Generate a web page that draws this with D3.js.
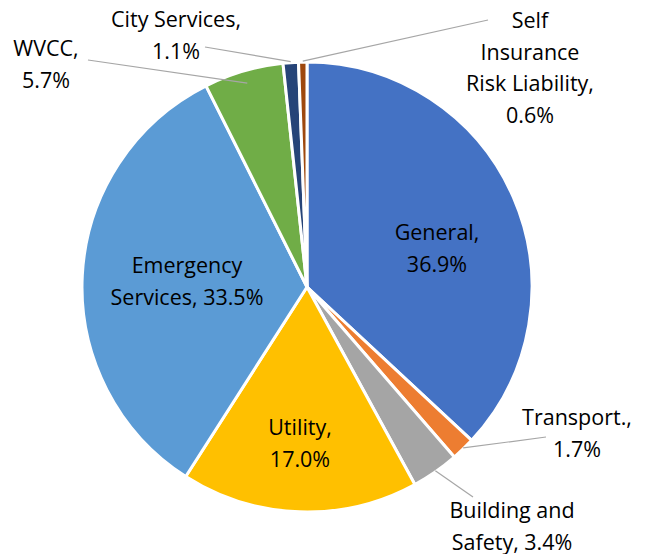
<!DOCTYPE html>
<html>
<head>
<meta charset="utf-8">
<script src="https://cdn.jsdelivr.net/npm/d3@7"></script>
<style>
  body { margin: 0; background: #fff; }
  text { font-family: "Open Sans", "Noto Sans", sans-serif; font-size: 21.5px; fill: #000; }
</style>
</head>
<body>
<div id="container"></div>
<script>
/* DATA */
const categories = ["General", "Transport.", "Building and Safety", "Utility",
  "Emergency Services", "WVCC", "City Services", "Self Insurance Risk Liability"];
const values = [36.9, 1.7, 3.4, 17.0, 33.5, 5.7, 1.1, 0.6];
const colors = ["#4472C4", "#ED7D31", "#A5A5A5", "#FFC000",
  "#5B9BD5", "#70AD47", "#264478", "#9E480E"];
// label text lines, as shown on the chart
const labelLines = [
  ["General,", "36.9%"],
  ["Transport.,", "1.7%"],
  ["Building and", "Safety, 3.4%"],
  ["Utility,", "17.0%"],
  ["Emergency", "Services, 33.5%"],
  ["WVCC,", "5.7%"],
  ["City Services,", "1.1%"],
  ["Self", "Insurance", "Risk Liability,", "0.6%"]
];

/* LAYOUT */
const width = 647, height = 554,
  cx = 307, cy = 287, radius = 225,
  lineH = 31.5;

// label anchor (centre x, first baseline y) and leader line end, per slice
const labelPos = [
  {x: 437, y: 240},
  {x: 577, y: 425},
  {x: 512, y: 518},
  {x: 300, y: 435},
  {x: 187, y: 273},
  {x: 46, y: 56},
  {x: 176, y: 27},
  {x: 530, y: 28}
];
const leaderEnd = [null, [546, 437], [473, 497], null, null, [88, 60], [205, 47], [488, 20]];
// how far into the slice each leader line reaches (fraction of radius)
const leaderDepth = [1, 1, 1, 1, 1, 0.94, 1, 1];

const svg = d3.select("#container")
  .append("svg")
  .attr("width", width)
  .attr("height", height);

const pie = d3.pie().sort(null).value(d => d)(values);
const arc = d3.arc().innerRadius(0).outerRadius(radius);
const edgeAt = k => d3.arc().innerRadius(radius * k).outerRadius(radius * k);

const g = svg.append("g").attr("transform", `translate(${cx},${cy})`);

g.selectAll("path.slice")
  .data(pie)
  .join("path")
  .attr("class", "slice")
  .attr("d", arc)
  .attr("fill", (d, i) => colors[i])
  .attr("stroke", "#fff")
  .attr("stroke-width", 3)
  .attr("stroke-linejoin", "round");

// leader lines
svg.selectAll("line.leader")
  .data(pie.filter((d, i) => leaderEnd[i]))
  .join("line")
  .attr("class", "leader")
  .attr("x1", d => cx + edgeAt(leaderDepth[d.index]).centroid(d)[0])
  .attr("y1", d => cy + edgeAt(leaderDepth[d.index]).centroid(d)[1] - 1)
  .attr("x2", d => leaderEnd[d.index][0])
  .attr("y2", d => leaderEnd[d.index][1])
  .attr("stroke", "#A6A6A6")
  .attr("stroke-width", 1.2);

// labels
const labels = svg.selectAll("text.lbl")
  .data(categories)
  .join("text")
  .attr("class", "lbl")
  .attr("text-anchor", "middle")
  .attr("x", (d, i) => labelPos[i].x)
  .attr("y", (d, i) => labelPos[i].y);

labels.each(function(d, i) {
  d3.select(this).selectAll("tspan")
    .data(labelLines[i])
    .join("tspan")
    .attr("x", labelPos[i].x)
    .attr("dy", (t, j) => j === 0 ? 0 : lineH)
    .text(t => t);
});
</script>
</body>
</html>
